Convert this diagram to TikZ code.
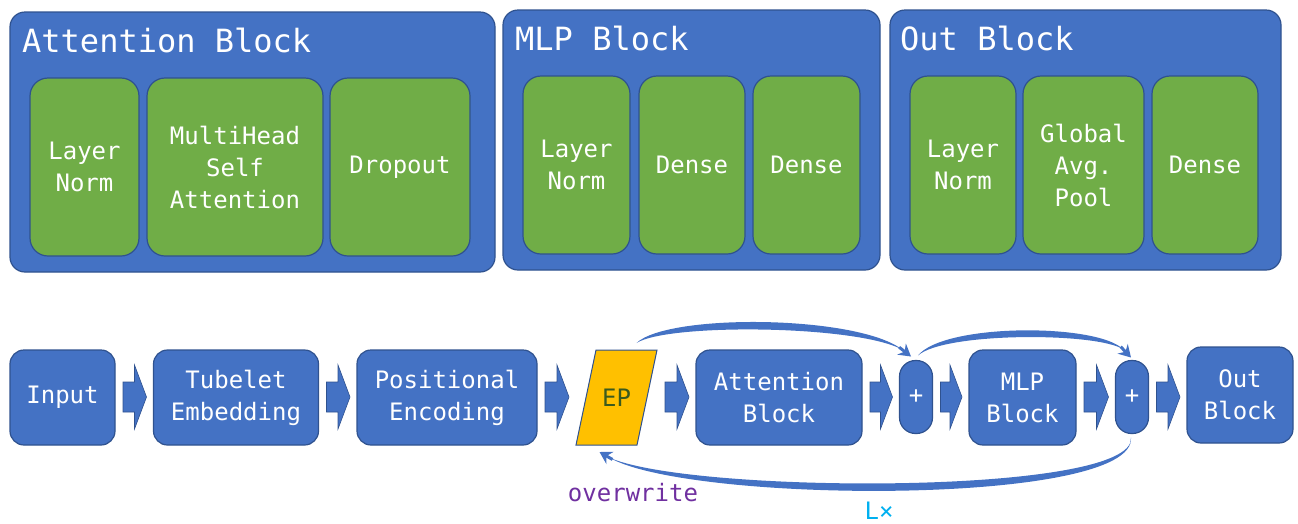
\documentclass[tikz,border=0pt]{standalone}
\usepackage{fontspec}
\setmonofont{DejaVu Sans Mono}
\usetikzlibrary{calc,arrows.meta}
\definecolor{blk}{HTML}{4472C4}
\definecolor{grn}{HTML}{70AD47}
\definecolor{edge}{HTML}{2F528F}
\definecolor{epfill}{HTML}{FFC000}
\definecolor{eptext}{HTML}{3A5A1E}
\definecolor{purp}{HTML}{7030A0}
\definecolor{cyanL}{HTML}{00B0F0}
\tikzset{
  base/.style={inner sep=0pt, outer sep=0pt, align=center, text=white,
    font=\ttfamily\fontsize{24}{32}\selectfont},
  outerblock/.style={base, fill=blk, draw=edge, line width=1.2pt, rounded corners=15pt},
  layerbox/.style={base, fill=grn, draw=edge, line width=1.2pt, rounded corners=18pt},
  flowbox/.style={base, fill=blk, draw=edge, line width=1.2pt, rounded corners=14pt},
  plusbox/.style={base, fill=blk, draw=edge, line width=1.2pt, rounded corners=16pt,
    minimum width=33, minimum height=73},
  title/.style={anchor=base west, inner sep=0pt, text=white,
    font=\ttfamily\fontsize{32}{38}\selectfont},
  flowarr/.style={fill=blk, draw=edge, line width=0.6pt},
  loopfill/.style={fill=blk, draw=edge, line width=0.4pt},
  loophead/.style={draw=blk, line width=3pt, -{Stealth[length=12pt,width=14pt,inset=4pt]}},
}
% block arrow between two named nodes, on the row line
\newcommand{\flowarrow}[2]{%
  \filldraw[flowarr] let \p1=(#1.east), \p2=(#2.west), \p3=(row) in
    (\x1+8pt,\y3+15pt) -- (\x2-19pt,\y3+15pt) -- (\x2-19pt,\y3+32pt)
    -- (\x2-7pt,\y3) -- (\x2-19pt,\y3-32pt) -- (\x2-19pt,\y3-15pt)
    -- (\x1+8pt,\y3-15pt) -- cycle;}
% tapered curved arrow: start, control 1, control 2, tip, inner offset
\newcommand{\bentarrow}[5]{%
  \coordinate (bend-end) at ($(#4)!11pt!(#3)$);
  \fill[blk] (#1) .. controls (#2) and (#3) .. (bend-end)
    .. controls ($(#3)+#5$) and ($(#2)+#5$) .. (#1) -- cycle;
  \draw[loophead] ($(#4)!15pt!(#3)$) -- (#4);}
\begin{document}
\begin{tikzpicture}[x=1pt,y=-1pt]
\useasboundingbox (0,0) rectangle (1298,523);

% ---- Attention Block detail
\node[outerblock, minimum width=485, minimum height=260] (attnD) at (252.5,142) {};
\node[title] (attnT) at (22,52) {Attention Block};
\node[layerbox, minimum width=109, minimum height=178] (aLN) at (84.5,167) {Layer\\Norm};
\node[layerbox, minimum width=176, minimum height=178] (aMH) at (235,167) {MultiHead\\Self\\Attention};
\node[layerbox, minimum width=140, minimum height=178] (aDO) at (400,167) {Dropout};

% ---- MLP Block detail
\node[outerblock, minimum width=377, minimum height=260] (mlpD) at (691.5,140) {};
\node[title] (mlpT) at (515,50) {MLP Block};
\node[layerbox, minimum width=107, minimum height=178] (mLN) at (576.5,165) {Layer\\Norm};
\node[layerbox, minimum width=106, minimum height=178] (mD1) at (692,165) {Dense};
\node[layerbox, minimum width=107, minimum height=178] (mD2) at (806.5,165) {Dense};

% ---- Out Block detail
\node[outerblock, minimum width=391, minimum height=260] (outD) at (1085.5,140) {};
\node[title] (outT) at (900,50) {Out Block};
\node[layerbox, minimum width=106, minimum height=178] (oLN) at (963,165) {Layer\\Norm};
\node[layerbox, minimum width=121, minimum height=178] (oGP) at (1083.5,165) {Global\\Avg.\\Pool};
\node[layerbox, minimum width=106, minimum height=178] (oDN) at (1205,165) {Dense};

% ---- pipeline
\coordinate (row) at (0,397);
\node[flowbox, minimum width=105, minimum height=95] (inp) at (62.5,397.5) {Input};
\node[flowbox, minimum width=165, minimum height=95] (tub) at (236,397.5) {Tubelet\\Embedding};
\node[flowbox, minimum width=180, minimum height=95] (pos) at (447,397.5) {Positional\\Encoding};
\filldraw[fill=epfill, draw=edge, line width=1pt]
  (596,350) -- (657,350) -- (637,445) -- (576,445) -- cycle;
\node[base, minimum width=81, minimum height=95, text=eptext] (ep) at (616.5,397.5) {EP};
\node[flowbox, minimum width=166, minimum height=95] (attn) at (779,397.5) {Attention\\Block};
\node[plusbox] (p1) at (916,397) {+};
\node[flowbox, minimum width=107, minimum height=95] (mlp) at (1022.5,397.5) {MLP\\Block};
\node[plusbox] (p2) at (1132,397) {+};
\node[flowbox, minimum width=106, minimum height=96] (out) at (1240,395) {Out\\Block};

\flowarrow{inp}{tub}
\flowarrow{tub}{pos}
\flowarrow{pos}{ep}
\flowarrow{ep}{attn}
\flowarrow{attn}{p1}
\flowarrow{p1}{mlp}
\flowarrow{mlp}{p2}
\flowarrow{p2}{out}

% ---- residual and loop connectors
\coordinate (r1s) at ($(ep.north)+(20,-7)$);
\coordinate (r1t) at ($(p1.north)+(-5,-4)$);
\coordinate (r1a) at (668,313);
\coordinate (r1b) at (858,315);
\bentarrow{r1s}{r1a}{r1b}{r1t}{(0,10)}

\coordinate (r2s) at ($(p1.north)+(2,-5)$);
\coordinate (r2t) at ($(p2.north)+(-1,-3)$);
\coordinate (r2a) at (944,323);
\coordinate (r2b) at (1098,323);
\bentarrow{r2s}{r2a}{r2b}{r2t}{(0,9)}

\coordinate (r3s) at ($(p2.south)+(-1,4)$);
\coordinate (r3t) at ($(ep.south)+(-17,7)$);
\coordinate (r3a) at (1137,506);
\coordinate (r3b) at (690,504);
\bentarrow{r3s}{r3a}{r3b}{r3t}{(0,-10)}

\node[font=\ttfamily\fontsize{24}{28}\selectfont, text=purp, inner sep=0pt] (ow) at (633,493) {overwrite};
\node[font=\ttfamily\fontsize{24}{28}\selectfont, text=cyanL, inner sep=0pt] (lx) at (879,511) {L×};
\end{tikzpicture}
\end{document}
